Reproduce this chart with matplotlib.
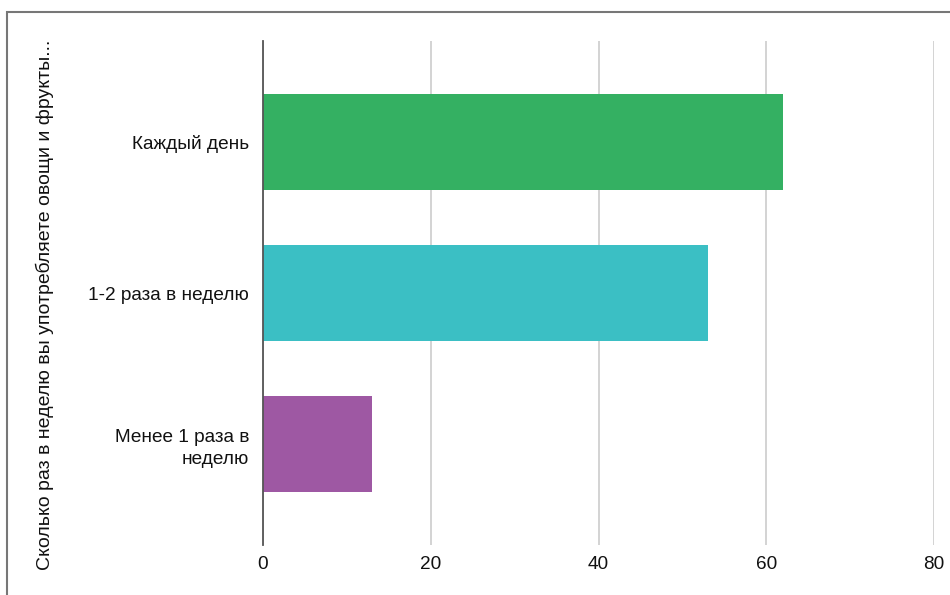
import matplotlib.pyplot as plt
from matplotlib.patches import Rectangle

plt.rcParams['font.family'] = ['Liberation Sans', 'DejaVu Sans']

categories = ["Каждый день", "1-2 раза в неделю", "Менее 1 раза в\nнеделю"]
values = [62, 53, 13]
colors = ["#34B062", "#3BBFC4", "#9E58A3"]
xticks = [0, 20, 40, 60, 80]

fig = plt.figure(figsize=(9.5, 5.95), dpi=100, facecolor='white')
ax = fig.add_axes([263/950, 1 - 545/595, (934 - 263)/950, (545 - 41)/595])

ypos = list(range(len(categories)))
ax.barh(ypos, values, height=0.635, color=colors, zorder=3)

ax.set_xlim(0, 80)
ax.set_ylim(len(categories) - 1 + 0.667, -0.667)
ax.set_xticks(xticks)
ax.set_xticklabels([str(t) for t in xticks], fontsize=13.7, color='#111111')
ax.set_yticks(ypos)
ax.set_yticklabels(categories, fontsize=13.7, color='#111111', linespacing=1.35)
ax.tick_params(axis='both', length=0)
ax.tick_params(axis='x', pad=8)
ax.tick_params(axis='y', pad=10)

ax.grid(axis='x', color='#cccccc', linewidth=1.2, zorder=0)
for s in ['top', 'right', 'bottom']:
    ax.spines[s].set_visible(False)
ax.spines['left'].set_color('#555555')
ax.spines['left'].set_linewidth(1.3)
ax.spines['left'].set_zorder(4)

fig.text(45/950, 1 - 305/595,
         "Сколько раз в неделю вы употребляете овощи и фрукты...",
         rotation=90, ha='center', va='center', fontsize=14, color='#111111')

# outer frame, open at the right and bottom edges
fig.patches.append(Rectangle((7/950, -0.1), 1.0, 1 - 12/595 + 0.1,
                             transform=fig.transFigure, fill=False,
                             edgecolor='#777777', linewidth=1.5))

fig.savefig('out.png', dpi=100, facecolor='white')
